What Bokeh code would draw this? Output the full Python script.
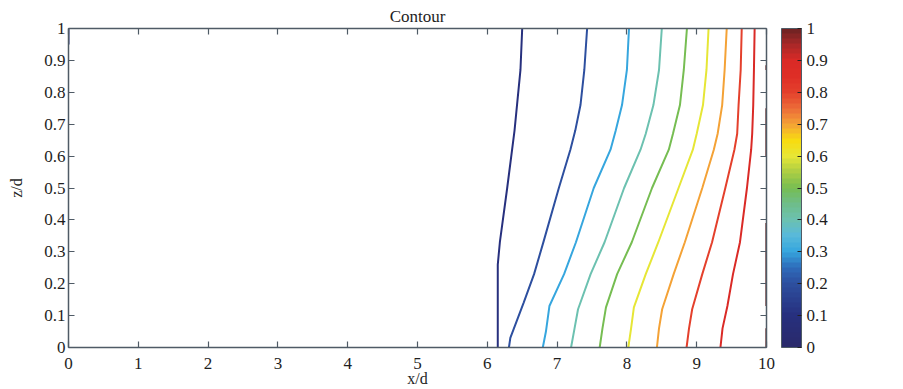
from bokeh.plotting import figure
from bokeh.models import (Range1d, LinearAxis, FixedTicker, ColorBar, LinearColorMapper,
                          CustomJSTickFormatter, ColumnDataSource)
from bokeh.embed import file_html
from bokeh.resources import INLINE

# ---------------- data ----------------
levels = [0.1, 0.2, 0.3, 0.4, 0.5, 0.6, 0.7, 0.8, 0.9]

c01_x = [6.15, 6.15, 6.18, 6.285, 6.39, 6.475, 6.50]
c01_z = [0.00, 0.26, 0.33, 0.50, 0.68, 0.87, 1.00]
c02_x = [6.31, 6.33, 6.52, 6.67, 6.81, 7.025, 7.19, 7.26, 7.335, 7.39, 7.43]
c02_z = [0.00, 0.03, 0.14, 0.23, 0.335, 0.50, 0.62, 0.68, 0.76, 0.87, 1.00]
c03_x = [6.795, 6.84, 6.89, 7.10, 7.27, 7.525, 7.765, 7.84, 7.93, 8.00, 8.03]
c03_z = [0.00, 0.05, 0.13, 0.23, 0.33, 0.50, 0.62, 0.68, 0.76, 0.87, 1.00]
c04_x = [7.20, 7.25, 7.30, 7.48, 7.68, 7.96, 8.195, 8.27, 8.38, 8.46, 8.50]
c04_z = [0.00, 0.06, 0.12, 0.23, 0.33, 0.50, 0.62, 0.67, 0.76, 0.87, 1.00]
c05_x = [7.61, 7.65, 7.70, 7.86, 8.07, 8.36, 8.60, 8.66, 8.76, 8.815, 8.86]
c05_z = [0.00, 0.06, 0.126, 0.23, 0.33, 0.50, 0.62, 0.67, 0.76, 0.87, 1.00]
c06_x = [8.02, 8.06, 8.10, 8.27, 8.45, 8.74, 8.945, 9.00, 9.09, 9.14, 9.17]
c06_z = [0.00, 0.06, 0.126, 0.23, 0.33, 0.50, 0.62, 0.67, 0.76, 0.87, 1.00]
c07_x = [8.43, 8.46, 8.505, 8.67, 8.83, 9.08, 9.245, 9.30, 9.365, 9.40, 9.43]
c07_z = [0.00, 0.06, 0.12, 0.23, 0.33, 0.50, 0.62, 0.67, 0.76, 0.87, 1.00]
c08_x = [8.855, 8.89, 8.935, 9.08, 9.22, 9.41, 9.54, 9.58, 9.60, 9.63, 9.645]
c08_z = [0.00, 0.06, 0.12, 0.23, 0.33, 0.50, 0.62, 0.67, 0.76, 0.87, 1.00]
c09_x = [9.34, 9.37, 9.44, 9.52, 9.62, 9.72, 9.78, 9.795, 9.81, 9.82, 9.83]
c09_z = [0.00, 0.06, 0.13, 0.23, 0.33, 0.50, 0.62, 0.67, 0.76, 0.87, 1.00]

# small pieces along the domain edges
edge_left_x = [[0.0, 0.0]]
edge_left_z = [[0.95, 1.0]]
edge_right_x = [[9.995, 9.995], [9.995, 9.995], [9.995, 9.995], [9.995, 9.995]]
edge_right_z = [[0.87, 0.885], [0.60, 0.75], [0.13, 0.39], [0.0, 0.06]]

xticks = [0, 1, 2, 3, 4, 5, 6, 7, 8, 9, 10]
zticks = [0, 0.1, 0.2, 0.3, 0.4, 0.5, 0.6, 0.7, 0.8, 0.9, 1]
cbar_ticks = [0, 0.1, 0.2, 0.3, 0.4, 0.5, 0.6, 0.7, 0.8, 0.9, 1]

# ---------------- colormap (style) ----------------
anchors = [
    (0.00, "#2a2a6a"), (0.10, "#27307e"), (0.20, "#2d4f9f"), (0.25, "#2e6cba"),
    (0.30, "#36a6de"), (0.35, "#58b9da"), (0.40, "#6cc1b0"), (0.45, "#6ebd88"),
    (0.50, "#76bd52"), (0.55, "#aacd44"), (0.60, "#e6e636"), (0.65, "#f8dc10"),
    (0.70, "#f4a236"), (0.75, "#ec6c38"), (0.80, "#e4402c"), (0.85, "#de2e26"),
    (0.90, "#da2a26"), (0.95, "#a82828"), (1.00, "#6a2222"),
]


def hex2rgb(h):
    return tuple(int(h[i:i + 2], 16) for i in (1, 3, 5))


def cmap_at(v):
    for (a, ca), (b, cb) in zip(anchors[:-1], anchors[1:]):
        if a <= v <= b:
            t = 0 if b == a else (v - a) / (b - a)
            r1, g1, b1 = hex2rgb(ca)
            r2, g2, b2 = hex2rgb(cb)
            return "#%02x%02x%02x" % (round(r1 + (r2 - r1) * t), round(g1 + (g2 - g1) * t),
                                      round(b1 + (b2 - b1) * t))
    return anchors[-1][1]


N = 64
palette = [cmap_at((i + 0.5) / N) for i in range(N)]
mapper = LinearColorMapper(palette=palette, low=0, high=1)

FONT = "Liberation Serif"
AXIS_COLOR = "#4f5b66"
TEXT_COLOR = "#1e1e1e"

p = figure(width=903, height=389, x_range=Range1d(0, 10), y_range=Range1d(0, 1),
           output_backend="svg", toolbar_location=None,
           min_border_left=68, min_border_right=137, min_border_top=28, min_border_bottom=42,
           x_axis_label="x/d", y_axis_label="z/d")
p.outline_line_color = None
p.grid.visible = False
p.title.text = "Contour"
p.title.align = "center"
p.title.text_font = FONT
p.title.text_font_style = "normal"
p.title.text_font_size = "17px"
p.title.text_color = TEXT_COLOR
p.title.standoff = 6
p.title.offset = 0

fmt = CustomJSTickFormatter(code="return String(Math.round(tick*10)/10);")

for ax, ticks in ((p.xaxis[0], xticks), (p.yaxis[0], zticks)):
    ax.ticker = FixedTicker(ticks=ticks)
    ax.formatter = fmt
    ax.axis_line_color = AXIS_COLOR
    ax.axis_line_width = 1.5
    ax.major_tick_line_color = AXIS_COLOR
    ax.major_tick_line_width = 1.2
    ax.major_tick_in = 6
    ax.major_tick_out = 0
    ax.minor_tick_line_color = None
    ax.major_label_text_font = FONT
    ax.major_label_text_font_size = "17px"
    ax.major_label_text_color = TEXT_COLOR
    ax.axis_label_text_font = FONT
    ax.axis_label_text_font_style = "normal"
    ax.axis_label_text_font_size = "16px"
    ax.axis_label_text_color = TEXT_COLOR
p.xaxis[0].major_label_standoff = 10
p.yaxis[0].major_label_standoff = 3
p.xaxis[0].axis_label_standoff = -2
p.yaxis[0].axis_label_standoff = 16

# mirrored box axes (ticks only, labels not painted)
for loc, ticks in (("above", xticks), ("right", zticks)):
    ax = LinearAxis(ticker=FixedTicker(ticks=ticks), formatter=fmt)
    ax.axis_line_color = AXIS_COLOR
    ax.axis_line_width = 1.5
    ax.major_tick_line_color = AXIS_COLOR
    ax.major_tick_line_width = 1.2
    ax.major_tick_in = 6
    ax.major_tick_out = 0
    ax.minor_tick_line_color = None
    ax.major_label_text_font_size = "1px"
    ax.major_label_text_color = None
    ax.major_label_standoff = 0
    p.add_layout(ax, loc)

# invisible spacer between the plot box and the colour bar
spacer = LinearAxis(ticker=FixedTicker(ticks=zticks), formatter=fmt)
spacer.axis_line_color = None
spacer.major_tick_line_color = None
spacer.minor_tick_line_color = None
spacer.major_tick_in = 0
spacer.major_tick_out = 15
spacer.major_label_text_font_size = "1px"
spacer.major_label_text_color = None
spacer.major_label_standoff = 0
p.add_layout(spacer, "right")

# contour lines
line_x = [c01_x, c02_x, c03_x, c04_x, c05_x, c06_x, c07_x, c08_x, c09_x]
line_z = [c01_z, c02_z, c03_z, c04_z, c05_z, c06_z, c07_z, c08_z, c09_z]
src = ColumnDataSource(dict(xs=line_x, ys=line_z, color=[cmap_at(v) for v in levels]))
p.multi_line(xs="xs", ys="ys", line_color="color", line_width=2, source=src)
p.multi_line(xs=edge_left_x, ys=edge_left_z, line_color=cmap_at(0.1), line_width=2)
p.multi_line(xs=edge_right_x, ys=edge_right_z, line_color=cmap_at(1.0), line_width=1.5)

cb = ColorBar(color_mapper=mapper, ticker=FixedTicker(ticks=cbar_ticks), formatter=fmt,
              width=20, padding=0, margin=0,
              bar_line_color=AXIS_COLOR, bar_line_width=1,
              major_tick_line_color="#222222", major_tick_in=4, major_tick_out=0,
              minor_tick_line_color=None,
              major_label_text_font=FONT, major_label_text_font_size="17px",
              major_label_text_color=TEXT_COLOR, label_standoff=5,
              border_line_color=None, background_fill_alpha=0)
p.add_layout(cb, "right")

open("out.html", "w").write(file_html(p, INLINE))
